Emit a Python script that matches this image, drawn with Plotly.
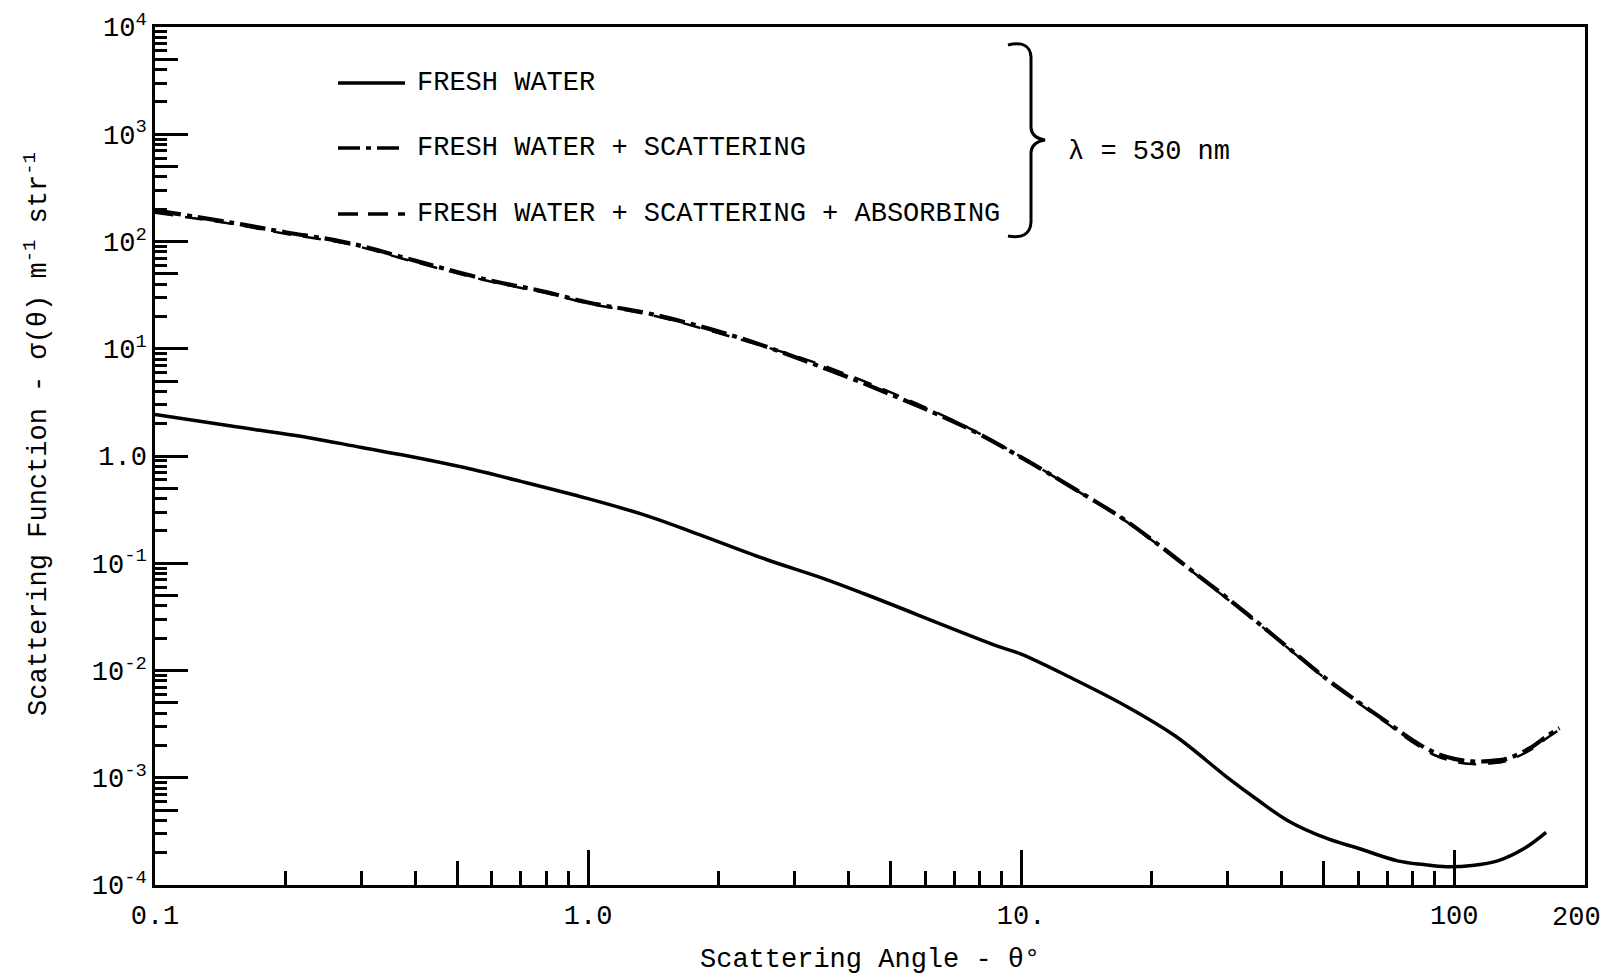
import plotly.graph_objects as go

# Scattering angle (degrees) and volume scattering function (m^-1 str^-1), lambda = 530 nm
fresh_angle = [0.1, 0.15, 0.225, 0.3, 0.4, 0.518, 0.7, 1.0, 1.38, 1.8, 2.57, 3.5,
               4.37, 8.85, 10, 13, 17.4, 22.7, 29.8, 35, 41.2, 51, 60, 74,
               85, 96, 110, 126, 145, 163]
fresh_value = [2.44, 1.90, 1.49, 1.20, 0.97, 0.78, 0.58, 0.40, 0.274, 0.186, 0.109, 0.072,
               0.0514, 0.0168, 0.0142, 0.0086, 0.0047, 0.00245, 0.00102, 0.00063, 0.00040, 0.00027, 0.00022, 0.000168,
               0.000155, 0.000148, 0.000152, 0.000168, 0.000219, 0.00031]

scat_angle = [0.1, 0.15, 0.2, 0.278, 0.4, 0.585, 0.8, 1.0, 1.42, 2.23, 3.35, 5.13,
              7.62, 10, 11.5, 14, 17, 20.4, 25, 30, 37, 44, 51, 60, 70, 80, 90,
              100, 110, 120, 132, 150, 165, 175]
scat_value = [195, 150, 122, 97.5, 66, 44, 33.8, 27, 20.8, 12.7, 7.1, 3.59,
              1.77, 0.97, 0.70, 0.434, 0.268, 0.157, 0.083, 0.047, 0.0237, 0.0133, 0.0082, 0.0051, 0.0033, 0.00225, 0.00172,
              0.00150, 0.00142, 0.00143, 0.0015, 0.0019, 0.0025, 0.0029]

absorb_angle = [0.1, 0.15, 0.2, 0.278, 0.4, 0.585, 0.8, 1.0, 1.42, 2.23, 3.35, 5.13,
                7.62, 10, 11.5, 14, 17, 20.4, 25, 30, 37, 44, 51, 60, 70, 80, 90,
                100, 110, 120, 132, 150, 165, 175]
absorb_value = [185, 146, 118, 95, 64, 43, 33, 26.5, 20.3, 12.3, 7.4, 3.75,
                1.80, 0.98, 0.70, 0.43, 0.265, 0.155, 0.082, 0.046, 0.0234, 0.0131, 0.0081, 0.0050, 0.0032, 0.00216, 0.00163,
                0.00141, 0.00134, 0.00136, 0.00143, 0.00182, 0.0024, 0.0028]

y_tickvals = [1e-4, 1e-3, 1e-2, 1e-1, 1, 1e1, 1e2, 1e3, 1e4]
y_ticktext = ["10<sup>-4</sup>", "10<sup>-3</sup>", "10<sup>-2</sup>", "10<sup>-1</sup>", "1.0",
              "10<sup>1</sup>", "10<sup>2</sup>", "10<sup>3</sup>", "10<sup>4</sup>"]
x_tickvals = [0.1, 1, 10, 100]
x_ticktext = ["0.1", "1.0", "10.", "100"]
x_end_label = "200"

legend_labels = ["FRESH WATER", "FRESH WATER + SCATTERING", "FRESH WATER + SCATTERING + ABSORBING"]

FONT = "Courier New, Liberation Mono, monospace"
FS = 27
W, H = 1606, 979
L, R, T, B = 155, 21, 27, 94
PW, PH = W - L - R, H - T - B
X_RANGE = [-1, 2.302]


def px(p):
    return (p - L) / PW


def py(p):
    return (H - B - p) / PH


DASHDOT = "26px,6px,5px,6px"
LONGDASH = "18px,12px"

fig = go.Figure()
fig.add_trace(go.Scatter(x=fresh_angle, y=fresh_value, mode="lines",
                         line=dict(color="black", width=3.5, shape="spline"),
                         name=legend_labels[0], showlegend=False))
fig.add_trace(go.Scatter(x=scat_angle, y=scat_value, mode="lines",
                         line=dict(color="black", width=4.2, dash=DASHDOT, shape="spline"),
                         name=legend_labels[1], showlegend=False))
fig.add_trace(go.Scatter(x=absorb_angle, y=absorb_value, mode="lines",
                         line=dict(color="black", width=2.5, dash=LONGDASH, shape="spline"),
                         name=legend_labels[2], showlegend=False))

# minor tick positions (2..9 of each decade)
x_minor = [m * 10 ** e for e in range(-1, 3) for m in range(2, 10) if m * 10 ** e < 200]
y_minor = [m * 10.0 ** e for e in range(-4, 4) for m in range(2, 10)]

axis_common = dict(type="log", showgrid=False, zeroline=False, showline=True,
                   linecolor="black", linewidth=2.5, mirror=True, ticks="inside",
                   tickcolor="black", tickwidth=2.5, automargin=False,
                   tickfont=dict(family=FONT, size=FS, color="black"))

fig.update_layout(
    width=W, height=H,
    margin=dict(l=L, r=R, t=T, b=B, autoexpand=False),
    paper_bgcolor="white", plot_bgcolor="white",
    showlegend=False,
    xaxis=dict(axis_common, range=X_RANGE, tickvals=x_tickvals, ticktext=x_ticktext,
               ticklen=35, ticklabelstandoff=4,
               minor=dict(tickvals=x_minor, ticks="inside", ticklen=14, tickwidth=2.5,
                          tickcolor="black", showgrid=False)),
    yaxis=dict(axis_common, range=[-4, 4], tickvals=y_tickvals, ticktext=y_ticktext,
               ticklen=33,
               minor=dict(tickvals=y_minor, ticks="inside", ticklen=12, tickwidth=2.5,
                          tickcolor="black", showgrid=False)),
    # mid-decade (x5) ticks drawn a little longer
    xaxis2=dict(type="log", overlaying="x", side="bottom", range=X_RANGE,
                tickvals=[0.5, 5, 50], ticks="inside", ticklen=24, tickwidth=2.5,
                tickcolor="black", showticklabels=False, showgrid=False,
                zeroline=False, showline=False, automargin=False),
    yaxis2=dict(type="log", overlaying="y", side="left", range=[-4, 4],
                tickvals=[5e-4, 5e-3, 5e-2, 5e-1, 5, 50, 500, 5000], ticks="inside",
                ticklen=23, tickwidth=2.5, tickcolor="black", showticklabels=False,
                showgrid=False, zeroline=False, showline=False, automargin=False),
)
fig.add_trace(go.Scatter(x=[], y=[], xaxis="x2", yaxis="y2", showlegend=False))

# in-plot key
rows_y = [83, 148, 214]
styles = ["solid", "22px,6px,5px,6px", "20px,10px"]
shapes = []
annotations = []
for yy, lab, st in zip(rows_y, legend_labels, styles):
    shapes.append(dict(type="line", xref="paper", yref="paper",
                       x0=px(338), x1=px(405), y0=py(yy), y1=py(yy),
                       line=dict(color="black", width=3.5, dash=st)))
    annotations.append(dict(xref="paper", yref="paper", x=px(415), y=py(yy),
                            xanchor="left", yanchor="middle", showarrow=False,
                            text=lab, font=dict(family=FONT, size=FS, color="black")))

# brace grouping the three key entries
pts = [(1008, 45), (1030, 40), (1031, 57), (1031, 128), (1032, 138), (1045, 140),
       (1032, 142), (1031, 152), (1031, 222), (1030, 240), (1008, 236)]
P = [(px(a), py(b)) for a, b in pts]
path = ("M{0[0]},{0[1]} Q{1[0]},{1[1]} {2[0]},{2[1]} L{3[0]},{3[1]} "
        "Q{4[0]},{4[1]} {5[0]},{5[1]} Q{6[0]},{6[1]} {7[0]},{7[1]} "
        "L{8[0]},{8[1]} Q{9[0]},{9[1]} {10[0]},{10[1]}").format(*P)
shapes.append(dict(type="path", xref="paper", yref="paper", path=path,
                   line=dict(color="black", width=3)))

annotations.append(dict(xref="paper", yref="paper", x=px(1066), y=py(152),
                        xanchor="left", yanchor="middle", showarrow=False,
                        text="λ = 530 nm", font=dict(family=FONT, size=FS, color="black")))

# end-of-axis label, pulled in so it stays on the page
annotations.append(dict(xref="paper", yref="paper", x=px(1576), y=py(918),
                        xanchor="center", yanchor="middle", showarrow=False,
                        text=x_end_label, font=dict(family=FONT, size=FS, color="black")))

# axis titles
annotations.append(dict(xref="paper", yref="paper", x=px(870), y=py(960),
                        xanchor="center", yanchor="middle", showarrow=False,
                        text="Scattering Angle - θ°",
                        font=dict(family=FONT, size=FS, color="black")))
annotations.append(dict(xref="paper", yref="paper", x=px(36), y=py(434),
                        xanchor="center", yanchor="middle", showarrow=False,
                        textangle=-90,
                        text="Scattering Function - σ(θ) m<sup>-1</sup> str<sup>-1</sup>",
                        font=dict(family=FONT, size=FS, color="black")))

fig.update_layout(shapes=shapes, annotations=annotations)
fig.write_html("out.html")
